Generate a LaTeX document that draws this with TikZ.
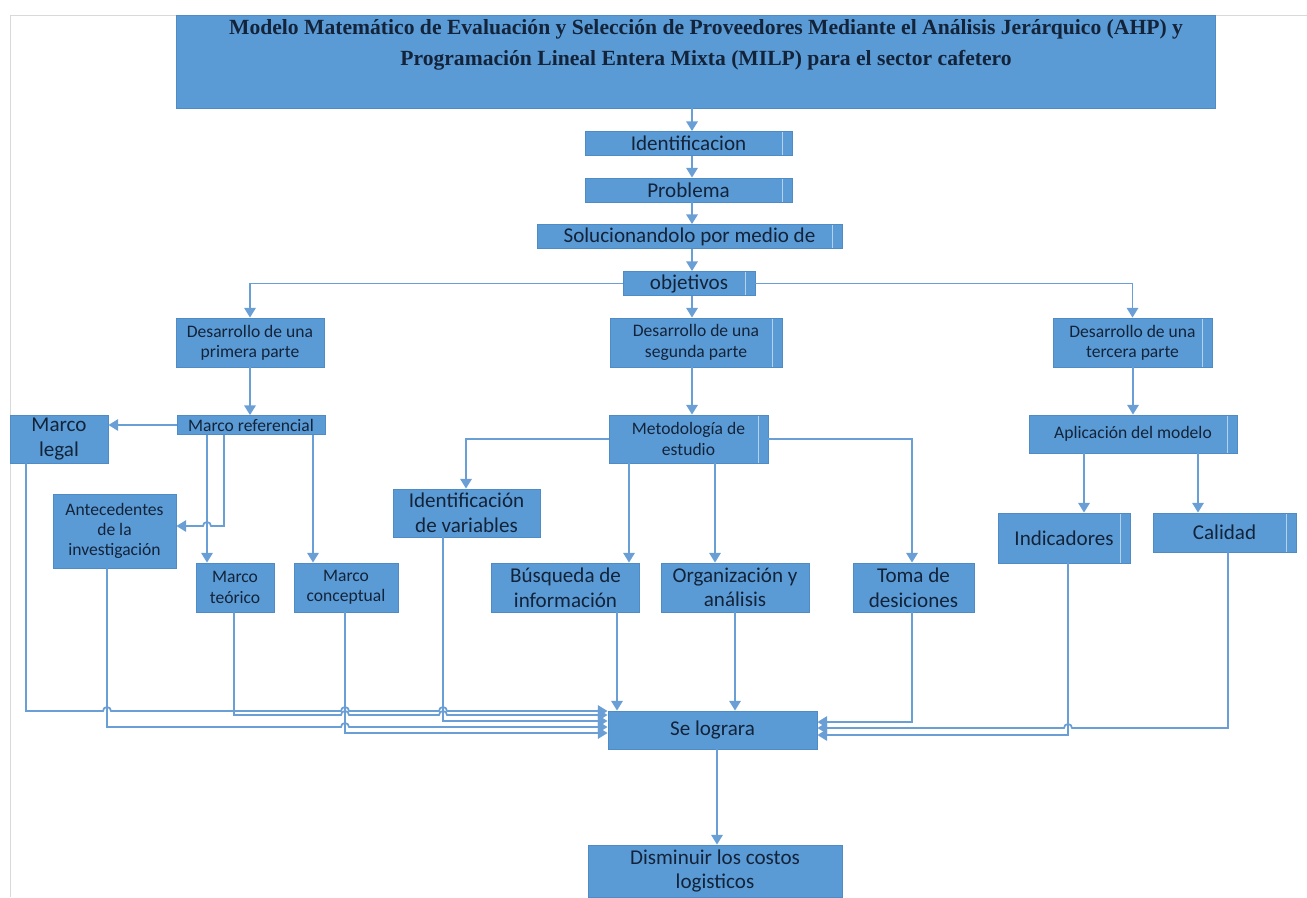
\documentclass[tikz,border=0pt]{standalone}
\usepackage{fontspec}
\setmainfont{Carlito}
\newfontfamily\titulofont{Liberation Serif}
\usetikzlibrary{arrows.meta}

\definecolor{azul}{HTML}{5B9BD5}
\definecolor{bordeazul}{HTML}{4F8CC7}
\definecolor{linea}{HTML}{6A9FD6}
\definecolor{tinta}{HTML}{13233A}

\tikzset{
  caja/.style={draw=bordeazul, line width=0.5pt, fill=azul, text=tinta, align=center, inner sep=1pt},
  medida/.style 2 args={minimum width=#1*0.02cm, minimum height=#2*0.02cm},
  barra/.style={path picture={\draw[white!55!azul, line width=0.8pt]
      ([xshift=-0.19cm]path picture bounding box.north east) --
      ([xshift=-0.19cm]path picture bounding box.south east);}},
  chica/.style={font=\fontsize{10}{11.6}\selectfont},
  media/.style={font=\fontsize{12}{14}\selectfont},
  conector/.style={draw=linea, line width=1pt},
  flecha/.style={conector, -{Triangle[width=6.5pt,length=5.5pt]}},
}

\begin{document}
\begin{tikzpicture}[x=0.02cm,y=-0.02cm]
  \useasboundingbox (0,0) rectangle (1307,897);
  % marco de la pagina
  \draw[gray!30, line width=0.5pt] (10,897) -- (10,15) -- (176,15) (1215,15) -- (1307,15);

  % titulo
  \node[caja, medida={1039}{93}] (titulo) at (695.5,61.5) {};
  \node[text=tinta, align=center, font=\titulofont\bfseries\fontsize{12.3}{17.5}\selectfont] (titulotexto) at (706,45)
    {Modelo Matemático de Evaluación y Selección de Proveedores Mediante el Análisis Jerárquico (AHP) y\\
     Programación Lineal Entera Mixta (MILP) para el sector cafetero};

  \node[caja, barra, media, medida={207}{24}] (ident) at (688.5,143.5) {Identificacion};
  \node[caja, barra, media, medida={207}{24}] (problema) at (688.5,190) {Problema};
  \node[caja, barra, media, medida={305}{24}] (soluc) at (689.5,236.5) {Solucionandolo por medio de};
  \node[caja, barra, media, medida={132}{24}] (objetivos) at (689,283.5) {objetivos};

  \node[caja, chica, medida={148}{49}] (des1) at (250,342.5) {Desarrollo de una\\primera parte};
  \node[caja, barra, chica, medida={172}{49}] (des2) at (696,342.5) {Desarrollo de una\\segunda parte};
  \node[caja, barra, chica, medida={159}{49}] (des3) at (1132.5,342.5) {Desarrollo de una\\tercera parte};

  % primera parte
  \node[caja, chica, medida={148}{19}] (mref) at (251,425) {Marco referencial};
  \node[caja, media, medida={98}{48}] (mlegal) at (59,439) {Marco\\legal};
  \node[caja, chica, medida={123}{74}] (antec) at (114.5,531) {Antecedentes\\de la\\investigación};
  \node[caja, chica, medida={78}{49}] (mteor) at (235,587.5) {Marco\\teórico};
  \node[caja, chica, medida={104}{49}] (mconc) at (346,587.5) {Marco\\conceptual};

  % segunda parte
  \node[caja, barra, chica, medida={159}{48}] (metod) at (688.5,439) {Metodología de\\estudio};
  \node[caja, media, medida={147}{48}] (idvar) at (466.5,513) {Identificación\\de variables};
  \node[caja, media, medida={148}{49}] (busq) at (565.5,587.5) {Búsqueda de\\información};
  \node[caja, media, medida={148}{49}] (organ) at (735,587.5) {Organización y\\análisis};
  \node[caja, media, medida={121}{49}] (toma) at (913.5,587.5) {Toma de\\desiciones};

  % tercera parte
  \node[caja, barra, chica, medida={208}{38}] (aplic) at (1133,434) {Aplicación del modelo};
  \node[caja, barra, media, medida={132}{50}] (indic) at (1064,538) {Indicadores};
  \node[caja, barra, media, medida={143}{39}] (calid) at (1224.5,532.5) {Calidad};

  \node[caja, media, medida={209}{38}] (selog) at (712.5,730) {Se lograra};
  \node[caja, media, medida={254}{52}] (dismin) at (715,871) {Disminuir los costos\\logisticos};

  % cadena central
  \draw[flecha] (692,0 |- titulo.south) -- (692,0 |- ident.north);
  \draw[flecha] (692,0 |- ident.south) -- (692,0 |- problema.north);
  \draw[flecha] (692,0 |- problema.south) -- (692,0 |- soluc.north);
  \draw[flecha] (692,0 |- soluc.south) -- (692,0 |- objetivos.north);
  \draw[flecha] (692,0 |- objetivos.south) -- (692,0 |- des2.north);
  \draw[flecha] (objetivos.west) -| (des1.north);
  \draw[flecha] (objetivos.east) -| (des3.north);

  \draw[flecha] (des1.south) -- (mref.north -| des1.south);
  \draw[flecha] (692,0 |- des2.south) -- (692,0 |- metod.north);
  \draw[flecha] (1133,0 |- des3.south) -- (1133,0 |- aplic.north);

  % marco referencial
  \draw[flecha] (mref.west) -- (mlegal.east |- mref.west);
  \draw[flecha] (207,0 |- mref.south) -- (207,0 |- mteor.north);
  \draw[flecha] (224,0 |- mref.south) -- (224,526) -- (211,526)
    arc[start angle=0, end angle=180, radius=0.08cm] -- (antec.east |- 0,526);
  \draw[flecha] (313,0 |- mref.south) -- (313,0 |- mconc.north);

  % metodologia
  \draw[flecha] (metod.west) -| (466,0 |- idvar.north);
  \draw[flecha] (metod.east) -| (912,0 |- toma.north);
  \draw[flecha] (629,0 |- metod.south) -- (629,0 |- busq.north);
  \draw[flecha] (715,0 |- metod.south) -- (715,0 |- organ.north);

  % aplicacion
  \draw[flecha] (1084,0 |- aplic.south) -- (1084,0 |- indic.north);
  \draw[flecha] (1198,0 |- aplic.south) -- (1198,0 |- calid.north);

  % hacia se lograra, lado izquierdo
  \draw[flecha] (26,0 |- mlegal.south) -- (26,711) -- (103,711)
    arc[start angle=180, end angle=0, radius=0.08cm] -- (341,711)
    arc[start angle=180, end angle=0, radius=0.08cm] -- (439,711)
    arc[start angle=180, end angle=0, radius=0.08cm] -- (selog.west |- 0,711);
  \draw[flecha] (234,0 |- mteor.south) -- (234,715) -- (341,715)
    arc[start angle=180, end angle=0, radius=0.08cm] -- (439,715)
    arc[start angle=180, end angle=0, radius=0.08cm] -- (selog.west |- 0,715);
  \draw[flecha] (443,0 |- idvar.south) -- (443,721) -- (selog.west |- 0,721);
  \draw[flecha] (107,0 |- antec.south) -- (107,727) -- (341,727)
    arc[start angle=180, end angle=0, radius=0.08cm] -- (selog.west |- 0,727);
  \draw[flecha] (345,0 |- mconc.south) -- (345,733) -- (selog.west |- 0,733);

  % hacia se lograra, lado derecho
  \draw[flecha] (912,0 |- toma.south) -- (912,722) -- (selog.east |- 0,722);
  \draw[flecha] (1228,0 |- calid.south) -- (1228,728) -- (1072,728)
    arc[start angle=0, end angle=180, radius=0.08cm] -- (selog.east |- 0,728);
  \draw[flecha] (1068,0 |- indic.south) -- (1068,735) -- (selog.east |- 0,735);

  % busqueda y organizacion
  \draw[flecha] (617,0 |- busq.south) -- (617,0 |- selog.north);
  \draw[flecha] (735,0 |- organ.south) -- (735,0 |- selog.north);

  \draw[flecha] (717,0 |- selog.south) -- (717,0 |- dismin.north);
\end{tikzpicture}
\end{document}
